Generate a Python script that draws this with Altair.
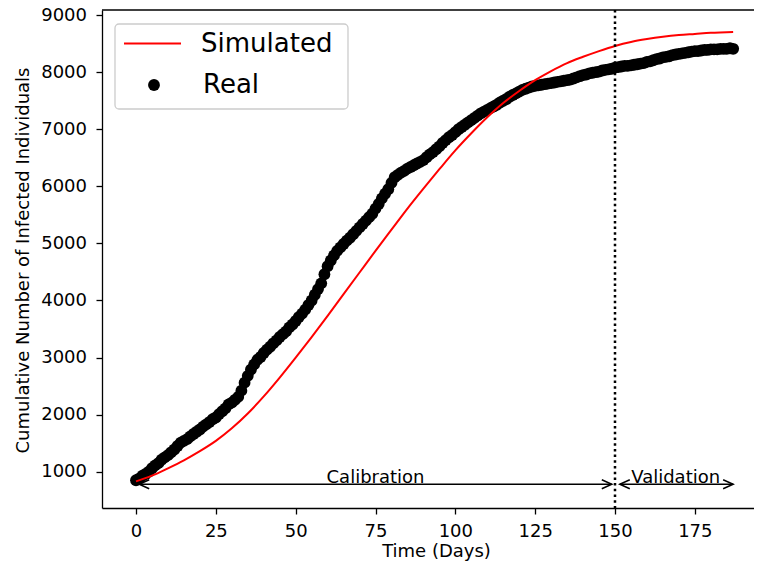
import altair as alt
import pandas as pd

# ---------------- data ----------------
real_cases = [
    850, 880, 930, 960, 1000, 1060, 1110, 1150, 1210, 1250, 1290,
    1340, 1390, 1450, 1510, 1540, 1570, 1620, 1660, 1700, 1740,
    1790, 1830, 1870, 1920, 1950, 2010, 2060, 2110, 2180, 2210,
    2260, 2310, 2420,
    2560, 2680, 2790, 2880, 2960, 3010, 3080,
    3140, 3190, 3250, 3300, 3360, 3410, 3460, 3530, 3580, 3640,
    3710, 3770, 3840, 3920, 4000, 4100, 4200,
    4300, 4460, 4600, 4700, 4790, 4870, 4930, 4990,
    5050, 5100, 5160, 5220, 5280, 5340,
    5400, 5460, 5520, 5610, 5690,
    5790, 5870, 5950, 6060, 6160,
    6200, 6240, 6270, 6310, 6340, 6370, 6400, 6430, 6460,
    6510, 6560, 6600, 6650, 6700, 6760, 6810,
    6860, 6900, 6950, 7000, 7040, 7080, 7120, 7160,
    7200, 7240, 7280, 7310, 7340, 7370, 7400, 7430,
    7470, 7500, 7530, 7570, 7600, 7630, 7660,
    7690, 7710, 7730, 7750, 7760, 7770, 7780, 7790, 7800, 7810,
    7820, 7830, 7840, 7850, 7860, 7870, 7890, 7910, 7930, 7950,
    7960, 7980, 7990, 8000, 8010, 8030, 8040, 8050, 8060, 8080,
    8090, 8100, 8110, 8110, 8120, 8130, 8140, 8150, 8160, 8180,
    8190, 8210, 8230, 8240, 8260, 8270, 8280, 8300, 8310, 8320,
    8330, 8340, 8350, 8360, 8370, 8370, 8380, 8390, 8390, 8400,
    8400, 8400, 8410, 8410, 8410, 8420, 8410,
]
real_days = list(range(len(real_cases)))

sim_days = [0, 5, 10, 15, 20, 25, 30, 35, 40, 45, 50, 55, 60, 65, 70, 75,
            80, 85, 90, 95, 100, 105, 110, 115, 120, 125, 130, 135, 140,
            145, 150, 155, 160, 165, 170, 175, 180, 185, 187]
sim_cases = [830, 930, 1060, 1200, 1360, 1540, 1760, 2020, 2320, 2650, 3000,
             3360, 3730, 4110, 4490, 4870, 5240, 5610, 5960, 6300, 6630, 6930,
             7210, 7460, 7670, 7860, 8020, 8160, 8270, 8370, 8460, 8530, 8580,
             8620, 8650, 8670, 8690, 8700, 8705]

x_ticks = [0, 25, 50, 75, 100, 125, 150, 175]
y_ticks = [1000, 2000, 3000, 4000, 5000, 6000, 7000, 8000, 9000]

split_day = [150]
arrow_start = [1, 151.5]
arrow_end = [149, 187]
arrow_level = [780, 780]
phase_labels = ["Calibration", "Validation"]
phase_label_x = [75, 169]
phase_label_y = [800, 800]

# ---------------- layout ----------------
W, H = 652, 498
FONT = "DejaVu Sans"
xscale = alt.Scale(domain=[-10.65, 193.53], nice=False, zero=False)
yscale = alt.Scale(domain=[364, 9090], nice=False, zero=False)

real_df = pd.DataFrame({"day": real_days, "cases": real_cases, "series": "Real"})
sim_df = pd.DataFrame({"day": sim_days, "cases": sim_cases, "series": "Simulated"})
split_df = pd.DataFrame({"day": split_day})
arrow_df = pd.DataFrame({"x1": arrow_start, "x2": arrow_end, "y": arrow_level})
label_df = pd.DataFrame({"x": phase_label_x, "y": phase_label_y, "t": phase_labels})
one_df = pd.DataFrame({"a": [0]})

x_axis = alt.Axis(values=x_ticks, title="Time (Days)", grid=False,
                  tickSize=6, labelBaseline="alphabetic", labelPadding=22.7,
                  titleX=334, titleY=48, titleAlign="center",
                  titleBaseline="alphabetic")
y_axis = alt.Axis(values=y_ticks, title="Cumulative Number of Infected Individuals",
                  grid=False, tickSize=6, labelPadding=9.5, format="d",
                  titleAngle=270, titleX=-73.7, titleY=250,
                  titleAlign="center", titleBaseline="alphabetic")


def X(field):
    return alt.X(field, scale=xscale, axis=x_axis, title="Time (Days)")


def Y(field):
    return alt.Y(field, scale=yscale, axis=y_axis,
                 title="Cumulative Number of Infected Individuals")


legend_box = alt.Chart(one_df).mark_rect(
    fill="white", stroke="#cccccc", strokeWidth=1.3, cornerRadius=4
).encode(x=alt.value(13), x2=alt.value(246), y=alt.value(14), y2=alt.value(99))

points = alt.Chart(real_df).mark_circle(size=140, opacity=1).encode(
    x=X("day:Q"),
    y=Y("cases:Q"),
    fill=alt.Fill("series:N",
                  scale=alt.Scale(domain=["Real"], range=["#000000"]),
                  legend=alt.Legend(title=None, orient="none", legendX=39, legendY=62,
                                    symbolType="circle", symbolSize=140,
                                    symbolStrokeWidth=0, labelFontSize=26,
                                    labelFont=FONT, labelColor="#000000",
                                    labelOffset=36, padding=0)),
)

line = alt.Chart(sim_df).mark_line(strokeWidth=2, interpolate="monotone").encode(
    x=X("day:Q"),
    y=Y("cases:Q"),
    stroke=alt.Stroke("series:N",
                      scale=alt.Scale(domain=["Simulated"], range=["#ff0000"]),
                      legend=alt.Legend(title=None, orient="none", legendX=21, legendY=4,
                                        symbolType="stroke", symbolSize=3249,
                                        symbolStrokeWidth=2, labelFontSize=26,
                                        labelFont=FONT, labelColor="#000000",
                                        labelOffset=19, padding=0)),
)

split_rule = alt.Chart(split_df).mark_rule(
    color="black", strokeWidth=2.5, strokeDash=[2.5, 3.2]
).encode(x=X("day:Q"))

top_border = alt.Chart(one_df).mark_rule(color="black", strokeWidth=1.3).encode(
    x=alt.value(0), x2=alt.value(W), y=alt.value(0))

arrows = alt.Chart(arrow_df).mark_rule(color="black", strokeWidth=1.5).encode(
    x=X("x1:Q"),
    x2="x2:Q",
    y=Y("y:Q"),
)
left_heads = alt.Chart(arrow_df).mark_point(
    shape="M1,-0.45L0,0L1,0.45", filled=False, size=400, color="black",
    strokeWidth=1.5, opacity=1
).encode(x=X("x1:Q"), y=Y("y:Q"))
right_heads = alt.Chart(arrow_df).mark_point(
    shape="M-1,-0.45L0,0L-1,0.45", filled=False, size=400, color="black",
    strokeWidth=1.5, opacity=1
).encode(x=X("x2:Q"), y=Y("y:Q"))

phase_text = alt.Chart(label_df).mark_text(
    font=FONT, fontSize=18, align="center", baseline="alphabetic", color="black"
).encode(x=X("x:Q"), y=Y("y:Q"), text="t:N")

chart = alt.layer(
    legend_box, points, line, split_rule, arrows, left_heads, right_heads,
    phase_text, top_border
).resolve_scale(fill="independent", stroke="independent").properties(
    width=W, height=H,
    autosize=alt.AutoSizeParams(type="none"),
    padding={"left": 94, "top": 2, "right": 0, "bottom": 53},
).configure_view(stroke=None).configure_axis(
    domainColor="black", domainWidth=1.3, tickColor="black", tickWidth=1.3,
    labelFont=FONT, labelFontSize=18, labelColor="black",
    titleFont=FONT, titleFontSize=18, titleColor="black", titleFontWeight="normal",
)

chart.save("out.html", embed_options={"renderer": "svg", "actions": False})
